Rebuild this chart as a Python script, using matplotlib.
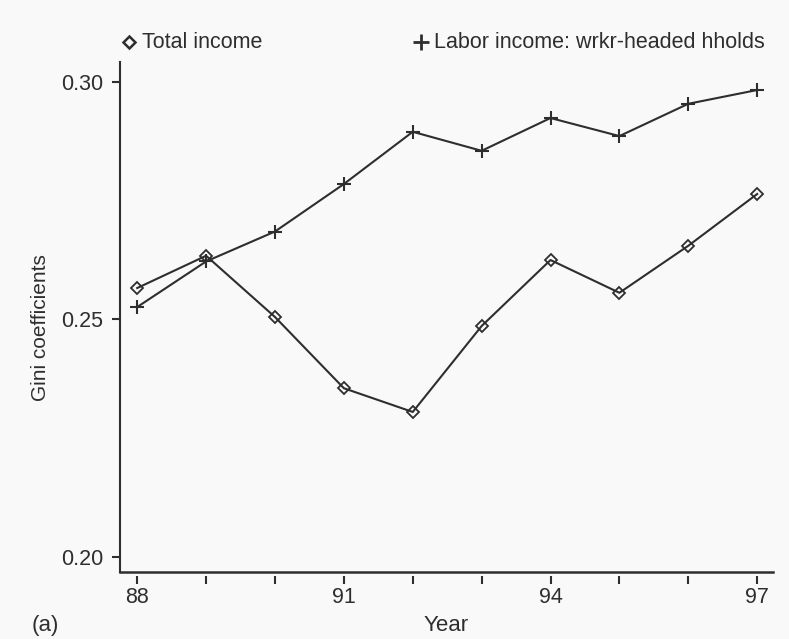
import matplotlib
matplotlib.use("Agg")
import matplotlib.pyplot as plt
from matplotlib.lines import Line2D

plt.rcParams['font.family'] = ['Liberation Sans', 'DejaVu Sans']

# Gini coefficients by year
years = [88, 89, 90, 91, 92, 93, 94, 95, 96, 97]
total_income = [0.2566, 0.2634, 0.2505, 0.2355, 0.2305, 0.2486, 0.2625, 0.2556, 0.2655, 0.2764]
labor_income = [0.2526, 0.2622, 0.2685, 0.2785, 0.2895, 0.2855, 0.2924, 0.2886, 0.2954, 0.2983]

x_tick_labels = ['88', '', '', '91', '', '', '94', '', '', '97']
y_ticks = [0.20, 0.25, 0.30]
y_tick_labels = ['0.20', '0.25', '0.30']

series_names = ['Total income', 'Labor income: wrkr-headed hholds']

W, H = 789, 639
ink = '#2e2e2e'
bg = '#f9f9f9'

fig = plt.figure(figsize=(W / 100, H / 100), dpi=100, facecolor=bg)
ax = fig.add_axes([120 / W, 1 - 572 / H, (773 - 120) / W, (572 - 62) / H])
ax.set_facecolor(bg)

ax.plot(years, total_income, color=ink, lw=1.5, marker='D', ms=6.5,
        mfc='none', mec=ink, mew=1.3)
ax.plot(years, labor_income, color=ink, lw=1.5, marker='+', ms=10,
        mec=ink, mew=1.5)

ax.set_xlim(87.75, 97.23)
ax.set_ylim(0.1968, 0.3042)

ax.set_xticks(years)
ax.set_xticklabels(x_tick_labels)
ax.set_yticks(y_ticks)
ax.set_yticklabels(y_tick_labels)

for s in ['top', 'right']:
    ax.spines[s].set_visible(False)
ax.spines['left'].set_color(ink)
ax.spines['left'].set_linewidth(1.5)
# bottom ticks sit slightly below the axis line
ax.spines['bottom'].set_position(('outward', 3))
ax.spines['bottom'].set_visible(False)
ax.plot([0, 1], [0, 0], transform=ax.transAxes, color=ink, lw=1.8,
        clip_on=False)

ax.tick_params(axis='y', direction='out', length=6, width=1.5, color=ink,
               labelcolor=ink, labelsize=15.5, pad=6)
ax.tick_params(axis='x', direction='out', length=6, width=1.5, color=ink,
               labelcolor=ink, labelsize=15.5, pad=2)

ax.set_xlabel('Year', color=ink, fontsize=16, labelpad=5)
ax.set_ylabel('Gini coefficients', color=ink, fontsize=15)
ax.yaxis.set_label_coords((50 - 120) / 653, (572 - 328) / 510)

# legend row above the plot
def fx(px):
    return px / W

def fy(py):
    return 1 - py / H

fig.add_artist(Line2D([fx(129)], [fy(42)], transform=fig.transFigure,
                      marker='D', ms=6.5, mfc='none', mec=ink, mew=1.8,
                      linestyle='none'))
fig.text(fx(142), fy(42), series_names[0], color=ink, fontsize=15.5,
         va='center', ha='left')
fig.add_artist(Line2D([fx(421)], [fy(42)], transform=fig.transFigure,
                      marker='+', ms=11, mec=ink, mew=2.0, linestyle='none'))
fig.text(fx(434), fy(42), series_names[1], color=ink, fontsize=15.5,
         va='center', ha='left')

fig.text(fx(32), fy(626), '(a)', color=ink, fontsize=16, va='center',
         ha='left')

fig.savefig('out.png', dpi=100, facecolor=bg)
